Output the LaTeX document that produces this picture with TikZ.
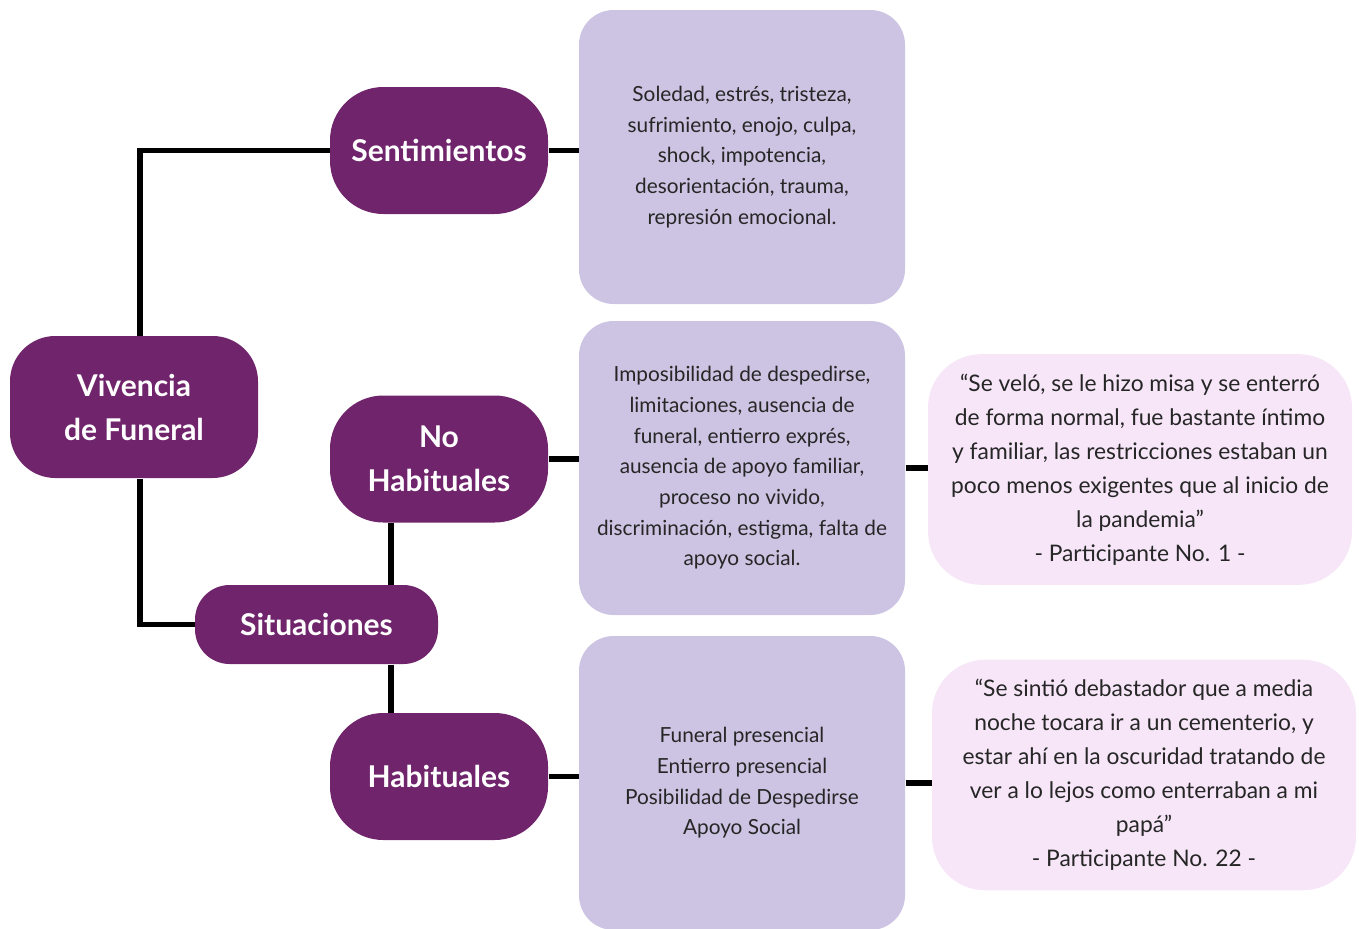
\documentclass[tikz,border=0pt]{standalone}
\usepackage{fontspec}
\setmainfont{Lato}
\usepackage{tikz}
\definecolor{plum}{RGB}{112,36,108}
\definecolor{lilac}{RGB}{204,196,226}
\definecolor{blush}{RGB}{246,230,248}
\tikzset{every picture/.style={line width=0.75pt}}
\tikzset{
  catbox/.style={fill=plum, text=white, rounded corners=40pt, align=center,
    font=\bfseries\fontsize{22.5}{33}\selectfont, minimum width=163.5pt, minimum height=95.25pt, inner sep=0pt},
  listbox/.style={fill=lilac, text=black!85, rounded corners=26pt, align=center,
    font=\fontsize{15.6}{23}\selectfont, minimum width=244.5pt, minimum height=220.5pt, inner sep=0pt},
  quotebox/.style={fill=blush, text=black!85, rounded corners=40pt, align=center,
    font=\fontsize{17.1}{25.5}\selectfont, minimum width=318pt, minimum height=173pt, inner sep=0pt},
  link/.style={draw=black, line width=4pt}
}

\begin{document}
\begin{tikzpicture}[x=0.75pt,y=0.75pt,yscale=-1,xscale=1]
    \useasboundingbox (0,0) rectangle (1359,928);
    \node [catbox, rounded corners=34pt, minimum width=186pt, minimum height=106.5pt] (viv) at (134,407) {Vivencia\\de Funeral};
    \node [catbox] (sent) at (439,150.5) {Sentimientos};
    \node [catbox] (nohab) at (439,459) {No\\Habituales};
    \node [catbox, rounded corners=26pt, minimum width=182.25pt, minimum height=59.25pt] (sit) at (316.5,624.5) {Situaciones};
    \node [catbox] (hab) at (439,776.5) {Habituales};
    \node [listbox] (lsent) at (742,157) {Soledad, estrés, tristeza,\\sufrimiento, enojo, culpa,\\shock, impotencia,\\desorientación, trauma,\\represión emocional.};
    \node [listbox] (lnohab) at (742,468) {Imposibilidad de despedirse,\\limitaciones, ausencia de\\funeral, entierro exprés,\\ausencia de apoyo familiar,\\proceso no vivido,\\discriminación, estigma, falta de\\apoyo social.};
    \node [listbox] (lhab) at (742,783) {Funeral presencial\\Entierro presencial\\Posibilidad de Despedirse\\Apoyo Social};
    \node [quotebox] (qnohab) at (1140,469.5) {“Se veló, se le hizo misa y se enterró\\de forma normal, fue bastante íntimo\\y familiar, las restricciones estaban un\\poco menos exigentes que al inicio de\\la pandemia”\\- Participante No. 1 -};
    \node [quotebox] (qhab) at (1144,775) {“Se sintió debastador que a media\\noche tocara ir a un cementerio, y\\estar ahí en la oscuridad tratando de\\ver a lo lejos como enterraban a mi\\papá”\\- Participante No. 22 -};
    \coordinate (sj) at (391,624.5);
    \draw [link] ([xshift=4.5pt]viv.north) |- (sent.west);
    \draw [link] ([xshift=4.5pt]viv.south) |- (sit.west);
    \draw [link] (sj |- nohab.south) -- (sj |- sit.north);
    \draw [link] (sj |- sit.south) -- (sj |- hab.north);
    \draw [link] (sent.east) -- (sent.east -| lsent.west);
    \draw [link] (nohab.east) -- (nohab.east -| lnohab.west);
    \draw [link] (hab.east) -- (hab.east -| lhab.west);
    \draw [link] (lnohab.east) -- (lnohab.east -| qnohab.west);
    \draw [link] (lhab.east) -- (lhab.east -| qhab.west);
\end{tikzpicture}
\end{document}
